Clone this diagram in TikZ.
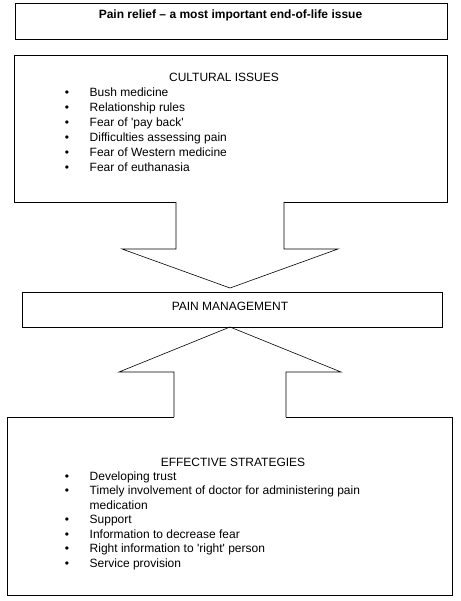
\documentclass[tikz,border=0pt]{standalone}
\usepackage{fontspec}
\setmainfont{Liberation Sans}
\usetikzlibrary{calc}

\begin{document}
\begin{tikzpicture}[x=1pt,y=-1pt,
    box/.style={draw,line width=0.8pt,inner sep=0pt,outer sep=0pt},
    txt/.style={inner sep=0pt,font=\fontsize{12}{14.5}\selectfont},
    item/.style={txt,anchor=base west},
    head/.style={txt,anchor=base},
    blockarrow/.style={line width=0.6pt,line join=miter}]
  \useasboundingbox (0,0) rectangle (460,601);
  % boxes
  \node[box,minimum width=432,minimum height=36] (title) at (231,21) {};
  \node[box,minimum width=433,minimum height=147] (cult) at (230.5,128.5) {};
  \node[box,minimum width=420,minimum height=35] (pain) at (232,309.5) {};
  \node[box,minimum width=445,minimum height=178] (strat) at (229.5,506) {};
  % headings
  \node[head,font=\bfseries\fontsize{12}{14}\selectfont] (tt) at (230.5,19)
    {Pain relief -- a most important end-of-life issue};
  \node[head] (ch) at (224,82) {CULTURAL ISSUES};
  \node[head] (ph) at (230,310) {PAIN MANAGEMENT};
  \node[head] (eh) at (233,466) {EFFECTIVE STRATEGIES};
  % cultural issues list
  \foreach \y/\txt [count=\i] in {97/Bush medicine, 112/Relationship rules,
      127/Fear of \textquotesingle pay back\textquotesingle,
      142/Difficulties assessing pain, 157/Fear of Western medicine,
      172/Fear of euthanasia} {
    \node[txt,anchor=base] (cb\i) at (67,\y) {\textbullet};
    \node[item] (ci\i) at (89.5,\y) {\txt};
  }
  % strategies list
  \foreach \y/\txt [count=\i] in {480/Developing trust,
      494.5/Timely involvement of doctor for administering pain,
      523.5/Support, 538/Information to decrease fear,
      552.5/Right information to \textquotesingle right\textquotesingle\ person,
      567/Service provision} {
    \node[txt,anchor=base] (eb\i) at (67,\y) {\textbullet};
    \node[item] (ei\i) at (89.5,\y) {\txt};
  }
  \node[item] (ei2b) at (89.5,509) {medication};
  % block arrow down
  \coordinate (dtip) at ($(pain.north)+(-2,-4)$);
  \fill[white] ($(cult.south)+(-54.5,-1)$) rectangle ($(cult.south)+(53.5,1)$);
  \draw[blockarrow] ($(cult.south)+(-54.5,0)$) -- ++(0,47) -- ++(-54,0)
    -- (dtip) -- ++(108,-39) -- ++(-54,0) -- ++(0,-47);
  % block arrow up
  \coordinate (utip) at ($(pain.south)+(-2,0)$);
  \fill[white] ($(strat.north)+(-55.5,-1)$) rectangle ($(strat.north)+(56.5,1)$);
  \draw[blockarrow] ($(strat.north)+(-55.5,0)$) -- ++(0,-45) -- ++(-55,0)
    -- (utip) -- ++(111,45) -- ++(-55,0) -- ++(0,45);
\end{tikzpicture}
\end{document}
